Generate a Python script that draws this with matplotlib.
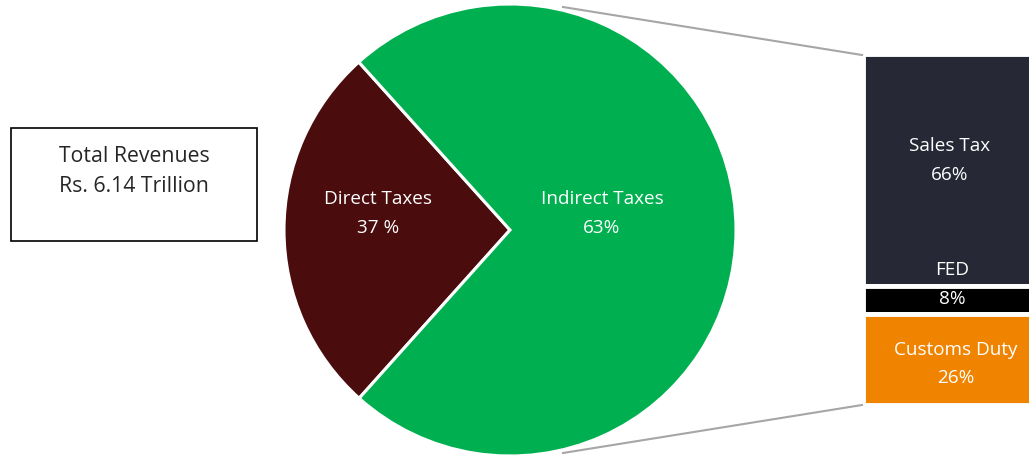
import matplotlib.pyplot as plt
from matplotlib.patches import Rectangle

plt.rcParams['font.family'] = ['Open Sans', 'DejaVu Sans']

# pie: wedge shares as drawn, labels as printed
pie_names = ['Direct Taxes', 'Indirect Taxes']
pie_sizes = [26.7, 73.3]
pie_labels = ['37 %', '63%']
pie_colors = ['#4a0c0d', '#00b050']

# breakdown of indirect taxes (top to bottom)
bar_names = ['Sales Tax', 'FED', 'Customs Duty']
bar_shares = [66, 8, 26]
bar_colors = ['#262836', '#000000', '#f08400']

W, H = 1029, 457
fig = plt.figure(figsize=(W / 100, H / 100), dpi=100)
ax = fig.add_axes([0, 0, 1, 1])

# pie
cx, cy, R = 510, 227, 226
ax.pie(pie_sizes, colors=pie_colors, startangle=132, counterclock=True,
       center=(cx, cy), radius=R, frame=True,
       wedgeprops=dict(edgecolor='white', linewidth=2.2))
ax.set_xlim(0, W)
ax.set_ylim(0, H)
ax.set_aspect('equal')
ax.axis('off')

fs = 13.6
ax.text(378, 258, pie_names[0], color='white', fontsize=fs, ha='center', va='center')
ax.text(378, 229, pie_labels[0], color='white', fontsize=fs, ha='center', va='center')
ax.text(602, 258, pie_names[1], color='white', fontsize=fs, ha='center', va='center')
ax.text(602, 229, pie_labels[1], color='white', fontsize=fs, ha='center', va='center')

# stacked bar
bx0, bx1 = 863, 1034
btop, bbot = 403, 52
scale = (btop - bbot) / sum(bar_shares)
top = btop
for name, share, col in zip(bar_names, bar_shares, bar_colors):
    h = share * scale
    ax.bar((bx0 + bx1) / 2, h, width=bx1 - bx0, bottom=top - h, color=col,
           edgecolor='white', linewidth=3.5)
    top -= h

ax.text(950, 311, 'Sales Tax', color='white', fontsize=fs, ha='center', va='center')
ax.text(950, 282, '66%', color='white', fontsize=fs, ha='center', va='center')
ax.text(952, 187, 'FED', color='white', fontsize=fs, ha='center', va='center')
ax.text(952, 158, '8%', color='white', fontsize=fs, ha='center', va='center')
ax.text(956, 107, 'Customs Duty', color='white', fontsize=fs, ha='center', va='center')
ax.text(956, 79, '26%', color='white', fontsize=fs, ha='center', va='center')

# connector lines
ax.plot([563, 862], [H - 7, H - 55], color='#a6a6a6', lw=1.5)
ax.plot([563, 862], [H - 453, H - 405], color='#a6a6a6', lw=1.5)

# total box
ax.add_patch(Rectangle((11, H - 241), 246, 113, facecolor='white',
                       edgecolor='black', linewidth=1.2))
ax.text(134, H - 157, 'Total Revenues', color='#262626', fontsize=15.3,
        ha='center', va='center')
ax.text(134, H - 187, 'Rs. 6.14 Trillion', color='#262626', fontsize=15.3,
        ha='center', va='center')

fig.savefig('out.png', dpi=100)
